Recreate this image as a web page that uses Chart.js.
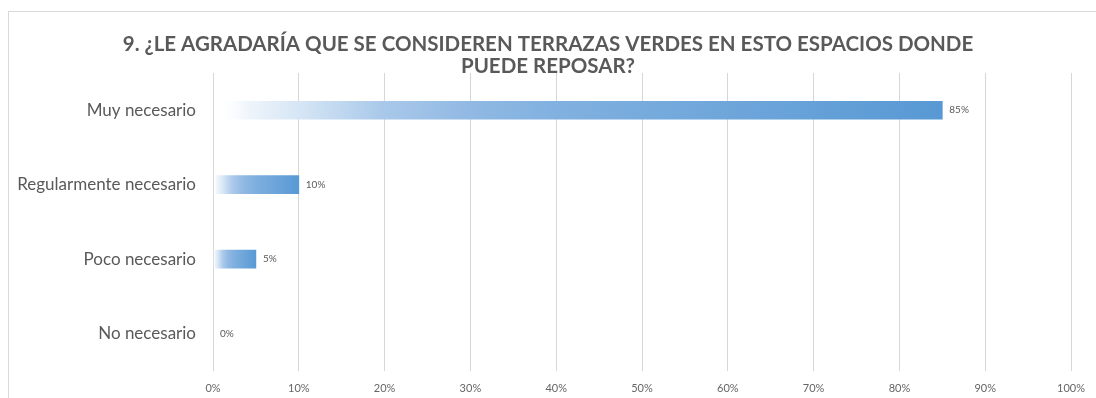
<!DOCTYPE html>
<html lang="es">
<head>
<meta charset="utf-8">
<title>Terrazas verdes</title>
<script src="https://cdn.jsdelivr.net/npm/chart.js@4.4.1/dist/chart.umd.min.js"></script>
<style>
  html, body { margin: 0; padding: 0; background: #ffffff; }
  #wrap { position: relative; width: 1096px; height: 398px; overflow: hidden; }
  #frame { position: absolute; left: 8px; top: 11px; width: 1200px; height: 500px;
           border: 1px solid #d9d9d9; box-sizing: border-box; }
  canvas { position: absolute; left: 0; top: 0; }
</style>
</head>
<body>
<div id="wrap">
  <div id="frame"></div>
  <canvas id="chart" width="1096" height="398"></canvas>
</div>
<script>
// Survey question and answers
const titleLines = [
  '9. ¿LE AGRADARÍA QUE SE CONSIDEREN TERRAZAS VERDES EN ESTO ESPACIOS DONDE',
  'PUEDE REPOSAR?'
];
const categories = ['Muy necesario', 'Regularmente necesario', 'Poco necesario', 'No necesario'];
const percentages = [85, 10, 5, 0];
const xTicks = [0, 10, 20, 30, 40, 50, 60, 70, 80, 90, 100];

const GREY = '#595959';
const BLUE = '#5b9bd5';

// Two-line heading drawn centred over the canvas
const headingPlugin = {
  id: 'heading',
  afterDraw(chart) {
    const ctx = chart.ctx;
    ctx.save();
    ctx.font = 'bold 20.5px Lato';
    ctx.fillStyle = GREY;
    ctx.textAlign = 'center';
    ctx.textBaseline = 'middle';
    titleLines.forEach((line, i) => ctx.fillText(line, 548, 44 + i * 22));
    ctx.restore();
  }
};

// Percentage labels at the end of each bar
const valueLabels = {
  id: 'valueLabels',
  afterDatasetsDraw(chart) {
    const ctx = chart.ctx;
    const meta = chart.getDatasetMeta(0);
    ctx.save();
    ctx.font = '10px Lato';
    ctx.fillStyle = GREY;
    ctx.textAlign = 'left';
    ctx.textBaseline = 'middle';
    meta.data.forEach((bar, i) => {
      ctx.fillText(percentages[i] + '%', bar.x + 7, bar.y);
    });
    ctx.restore();
  }
};

// Horizontal fade from white to blue along each bar
function barGradient(context) {
  const chart = context.chart;
  const x = chart.scales.x;
  if (!x || !chart.chartArea) return BLUE;
  const v = context.raw;
  const x0 = x.getPixelForValue(0);
  const x1 = x.getPixelForValue(v);
  if (x1 - x0 < 1) return 'rgba(0,0,0,0)';
  const g = chart.ctx.createLinearGradient(x0, 0, x1, 0);
  g.addColorStop(0, 'rgba(255,255,255,0)');
  g.addColorStop(0.05, '#eef4fb');
  g.addColorStop(0.12, '#d5e5f5');
  g.addColorStop(0.23, '#aac9ea');
  g.addColorStop(0.36, '#8fb8e3');
  g.addColorStop(0.5, '#7eafdf');
  g.addColorStop(1, '#5899d4');
  return g;
}

new Chart(document.getElementById('chart'), {
  type: 'bar',
  data: {
    labels: categories,
    datasets: [{
      data: percentages,
      backgroundColor: barGradient,
      borderWidth: 0,
      barThickness: 18
    }]
  },
  options: {
    indexAxis: 'y',
    responsive: false,
    animation: false,
    devicePixelRatio: 1,
    layout: { padding: { top: 73, right: 21, bottom: 0, left: 0 } },
    plugins: {
      legend: { display: false },
      title: { display: false },
      tooltip: { enabled: false }
    },
    scales: {
      x: {
        type: 'linear',
        min: 0,
        max: 100,
        afterBuildTicks(scale) { scale.ticks = xTicks.map(v => ({ value: v })); },
        afterFit(scale) { scale.height = 23; },
        grid: { color: '#d6d6d6', lineWidth: 1, drawTicks: false },
        border: { display: false },
        ticks: {
          padding: 11,
          color: '#666666',
          font: { family: 'Lato', size: 11 },
          maxRotation: 0,
          callback: v => v + '%'
        }
      },
      y: {
        afterFit(scale) { scale.width = 213; },
        grid: { display: false, drawTicks: false },
        border: { display: false },
        ticks: {
          padding: 17,
          color: GREY,
          font: { family: 'Lato', size: 17 }
        }
      }
    }
  },
  plugins: [headingPlugin, valueLabels]
});
</script>
</body>
</html>
